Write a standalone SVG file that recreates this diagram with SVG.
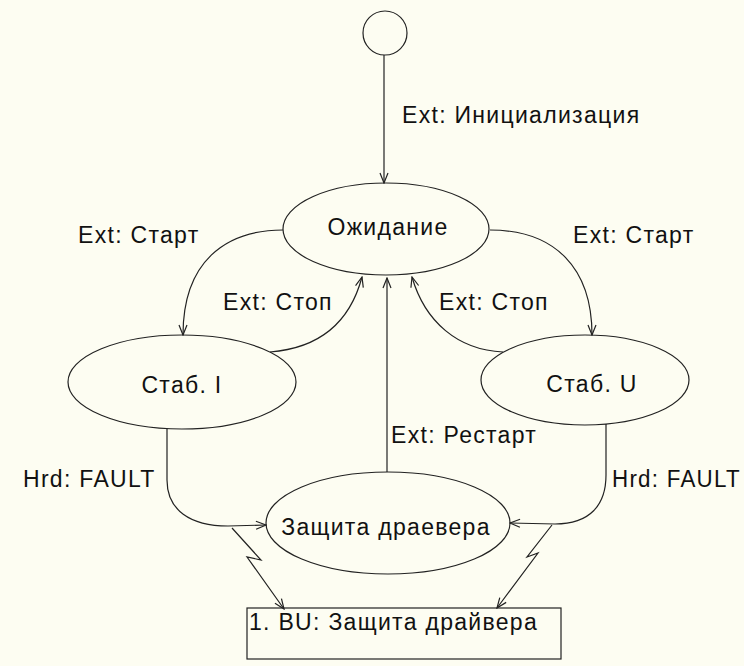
<svg xmlns="http://www.w3.org/2000/svg" width="744" height="666" viewBox="0 0 744 666">
<style>
.bg{fill:#fdfdf2}
.shape{fill:none;stroke:#222;stroke-width:1.2}
.edge{fill:none;stroke:#222;stroke-width:1.2}
.t{font-family:"Liberation Sans",Arial,sans-serif;font-size:23px;letter-spacing:1.3px;fill:#111}
.c{text-anchor:middle}
</style>
<defs>
<marker id="arr" viewBox="-1 -6 12 12" refX="10" refY="0" markerWidth="12" markerHeight="12" markerUnits="userSpaceOnUse" orient="auto">
<path d="M0,-4 L10,0 L0,4" fill="none" stroke="#222" stroke-width="1.2"/>
</marker>
</defs>
<rect class="bg" x="0" y="0" width="744" height="666"/>
<g id="connectors">
<path class="edge" d="M384,55 L384,183" marker-end="url(#arr)"/>
<path class="edge" d="M283,230 C225,230 183,262 183,335" marker-end="url(#arr)"/>
<path class="edge" d="M270,352 C320,348 350,322 362,277" marker-end="url(#arr)"/>
<path class="edge" d="M490,230 C555,230 592,268 592,335" marker-end="url(#arr)"/>
<path class="edge" d="M503,352 C458,350 425,322 412,277" marker-end="url(#arr)"/>
<path class="edge" d="M387,472 L387,278" marker-end="url(#arr)"/>
<path class="edge" d="M167,429 L167,480 C167,510 190,526 228,526 L266,525" marker-end="url(#arr)"/>
<path class="edge" d="M606,424 L606,475 C606,505 590,524 555,524 L510,523" marker-end="url(#arr)"/>
<path class="edge" d="M232,528 L261,560 L247,557 L284,609" marker-end="url(#arr)"/>
<path class="edge" d="M552,525 L527,557 L538,553 L497,608" marker-end="url(#arr)"/>
</g>
<g id="labels">
<text class="t" x="402" y="123">Ext: Инициализация</text>
<text class="t" x="78" y="243">Ext: Старт</text>
<text class="t" x="223" y="310">Ext: Стоп</text>
<text class="t" x="573" y="243">Ext: Старт</text>
<text class="t" x="439" y="310">Ext: Стоп</text>
<text class="t" x="391" y="443">Ext: Рестарт</text>
<text class="t" x="23" y="487">Hrd: FAULT</text>
<text class="t" x="612" y="487" textLength="129" lengthAdjust="spacingAndGlyphs">Hrd: FAULT</text>
</g>
<g id="initial">
<circle class="shape" cx="385" cy="33" r="22"/>
</g>
<g id="ozhidanie">
<ellipse class="shape" cx="386" cy="229" rx="103" ry="46"/>
<text class="t c" x="388" y="235">Ожидание</text>
</g>
<g id="stab-i">
<ellipse class="shape" cx="182" cy="382" rx="114" ry="47"/>
<text class="t c" x="182" y="393">Стаб. I</text>
</g>
<g id="stab-u">
<ellipse class="shape" cx="585" cy="380" rx="104" ry="45"/>
<text class="t c" x="592" y="392">Стаб. U</text>
</g>
<g id="zashchita">
<ellipse class="shape" cx="388" cy="523" rx="122" ry="51"/>
<text class="t c" x="386" y="535">Защита драевера</text>
</g>
<g id="bu">
<rect class="shape" x="247" y="608" width="314" height="51"/>
<text class="t" x="249" y="630">1. BU: Защита драйвера</text>
</g>
</svg>
